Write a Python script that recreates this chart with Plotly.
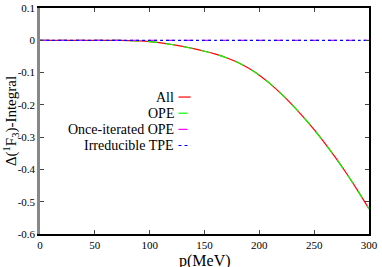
import plotly.graph_objects as go

p = [0, 10, 20, 30, 40, 50, 60, 70, 80, 90, 100, 110, 120, 130, 140, 150,
     160, 170, 180, 190, 200, 210, 220, 230, 240, 250, 260, 270, 280, 290, 300]
all_vals = [0, 0, 0, 0, 0, 0, 0, -0.0002, -0.001, -0.002, -0.004, -0.008, -0.013,
            -0.019, -0.026, -0.034, -0.043, -0.054, -0.068, -0.086, -0.108, -0.135,
            -0.166, -0.200, -0.237, -0.277, -0.320, -0.366, -0.415, -0.467, -0.522]
ope_vals = list(all_vals)
once_iter_vals = [0] * len(p)
irr_tpe_vals = [0] * len(p)

series_names = ["All", "OPE", "Once-iterated OPE", "Irreducible TPE"]
series_colors = ["#ff0000", "#00ff00", "#ff00ff", "#0000ff"]
series_dash = ["solid", "dash", "dash", "dot"]
series_data = [all_vals, ope_vals, once_iter_vals, irr_tpe_vals]

y_ticks = [0.1, 0, -0.1, -0.2, -0.3, -0.4, -0.5, -0.6]
y_ticktext = ["0.1", "0", "-0.1", "-0.2", "-0.3", "-0.4", "-0.5", "-0.6"]
x_ticks = [0, 50, 100, 150, 200, 250, 300]

font = "Liberation Serif"

fig = go.Figure()
for name, color, dash, ys in zip(series_names, series_colors, series_dash, series_data):
    fig.add_trace(go.Scatter(x=p, y=ys, mode="lines", name=name, showlegend=False,
                             line=dict(color=color, width=1.2, dash=dash,
                                       shape="spline", smoothing=0.6)))

# right-side axis (ticks only)
fig.add_trace(go.Scatter(x=[None], y=[None], yaxis="y2", showlegend=False))

# gnuplot-style legend: right aligned text, sample to the right
leg_x_text = 0.413
leg_y0 = 0.606
leg_dy = 0.0715
for i, (name, color, dash) in enumerate(zip(series_names, series_colors, series_dash)):
    yy = leg_y0 - i * leg_dy
    fig.add_annotation(xref="paper", yref="paper", x=leg_x_text, y=yy, text=name,
                       showarrow=False, xanchor="right", yanchor="middle",
                       font=dict(family=font, size=14, color="black"))
    fig.add_shape(type="line", xref="paper", yref="paper",
                  x0=leg_x_text + 0.008, x1=leg_x_text + 0.045, y0=yy, y1=yy,
                  line=dict(color=color, width=1.2, dash=dash))

# axis titles as annotations (gnuplot placement)
fig.add_annotation(xref="paper", yref="paper", x=0.5, y=-0.118, text="p(MeV)",
                   showarrow=False, xanchor="center", yanchor="middle",
                   font=dict(family=font, size=16, color="black"))
fig.add_annotation(xref="paper", yref="paper", x=-0.088, y=0.5,
                   text="Δ(<sup>1</sup>F<sub>3</sub>)-Integral", textangle=-90,
                   showarrow=False, xanchor="center", yanchor="middle",
                   font=dict(family=font, size=15, color="black"))

fig.update_layout(
    width=382, height=267,
    margin=dict(l=40, r=13, t=8, b=33, autoexpand=False),
    paper_bgcolor="white", plot_bgcolor="white",
    font=dict(family=font, size=11, color="black"),
    xaxis=dict(range=[0, 300], tickvals=x_ticks, ticks="inside", ticklen=4,
               showline=True, linecolor="black", linewidth=1.5, mirror="ticks",
               showgrid=False, zeroline=False, tickfont=dict(family=font, size=11),
               automargin=False),
    yaxis=dict(range=[-0.6, 0.1], tickvals=y_ticks, ticktext=y_ticktext,
               ticks="inside", ticklen=4, showline=True, linecolor="#888888",
               linewidth=2.5, showgrid=False, zeroline=False,
               tickfont=dict(family=font, size=11), automargin=False),
    yaxis2=dict(range=[-0.6, 0.1], overlaying="y", side="right", tickvals=y_ticks,
                ticks="inside", ticklen=4, showticklabels=False, showline=True,
                linecolor="black", linewidth=1.5, showgrid=False, zeroline=False,
                automargin=False),
)

fig.write_html("out.html", config={"displayModeBar": False},
               post_script="document.body.style.margin='0';document.body.style.overflow='hidden';")
